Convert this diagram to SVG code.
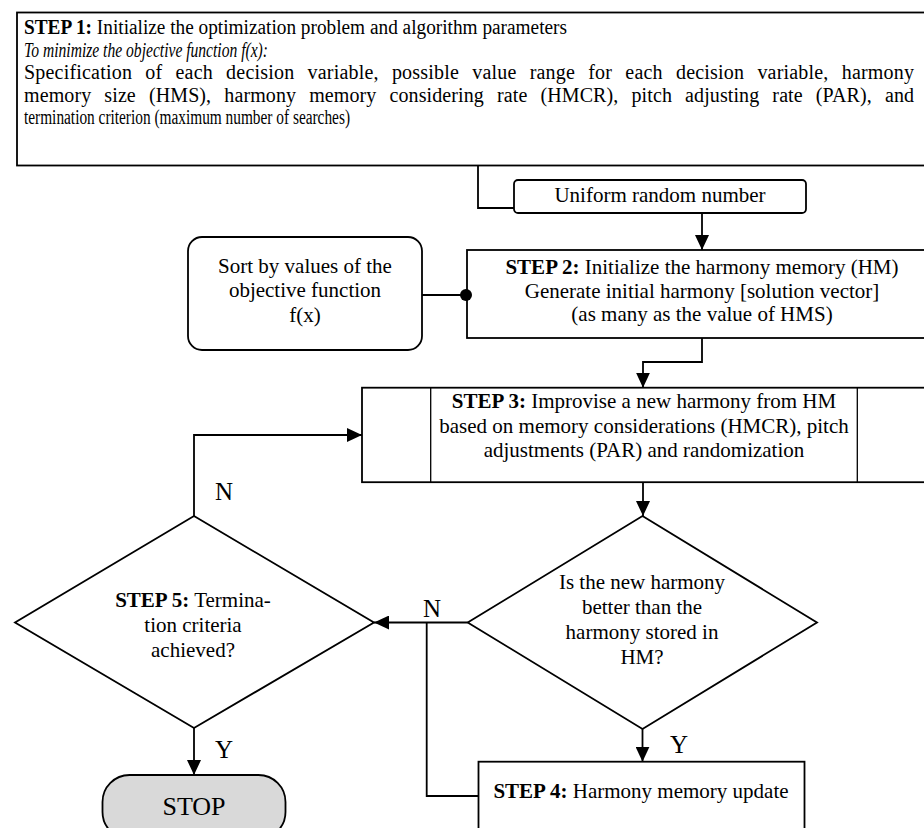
<svg xmlns="http://www.w3.org/2000/svg" width="924" height="828" viewBox="0 0 924 828">
  <defs>
    <style>
      .box { fill: #fff; stroke: #000; stroke-width: 1.8; }
      .thin { fill: none; stroke: #000; stroke-width: 1.3; }
      .stop { fill: #d9d9d9; stroke: #000; stroke-width: 1.8; }
      .wire { fill: none; stroke: #000; stroke-width: 1.8; }
      .arrow { marker-end: url(#head); }
      .t { font-family: "Liberation Serif", "Times New Roman", serif; font-size: 21px; fill: #000; }
      .s1 { font-size: 20px; }
      .just { word-spacing: 8px; }
      .c { text-anchor: middle; }
      .b { font-weight: bold; }
      .i { font-style: italic; }
      .lbl { font-family: "Liberation Serif", "Times New Roman", serif; font-size: 25px; fill: #000; text-anchor: middle; }
    </style>
    <marker id="head" markerUnits="userSpaceOnUse" markerWidth="15" markerHeight="14" refX="15" refY="7" orient="auto">
      <path d="M0,0 L15,7 L0,14 Z" fill="#000"/>
    </marker>
  </defs>

  <rect width="924" height="828" fill="#fff"/>

  <!-- STEP 1: problem set-up (justified middle lines) -->
  <g id="step1">
    <rect class="box" x="17" y="12.5" width="920" height="153"/>
    <text class="t s1" x="24" y="34" textLength="543" lengthAdjust="spacingAndGlyphs"><tspan class="b">STEP 1:</tspan> Initialize the optimization problem and algorithm parameters</text>
    <text class="t s1 i" x="24" y="56.5" textLength="244" lengthAdjust="spacingAndGlyphs">To minimize the objective function f(x):</text>
    <text class="t s1 just" x="24" y="79" textLength="890" lengthAdjust="spacing">Specification of each decision variable, possible value range for  each decision variable, harmony</text>
    <text class="t s1 just" x="24" y="101.5" textLength="890" lengthAdjust="spacing">memory size (HMS), harmony memory considering rate (HMCR), pitch adjusting rate (PAR), and</text>
    <text class="t s1" x="24" y="124" textLength="326" lengthAdjust="spacingAndGlyphs">termination criterion (maximum number of searches)</text>
  </g>

  <!-- uniform random number -->
  <g id="uniform">
    <rect class="box" x="514" y="180" width="292" height="33" rx="4"/>
    <text class="t c" x="660" y="202">Uniform random number</text>
  </g>

  <!-- sort -->
  <g id="sort">
    <rect class="box" x="188" y="237" width="234" height="113" rx="14"/>
    <text class="t c" x="305" y="273">Sort by values of the</text>
    <text class="t c" x="305" y="297">objective function</text>
    <text class="t c" x="305" y="322">f(x)</text>
  </g>

  <!-- STEP 2 -->
  <g id="step2">
    <rect class="box" x="467" y="250" width="470" height="88"/>
    <text class="t c" x="702" y="274"><tspan class="b">STEP 2:</tspan> Initialize the harmony memory (HM)</text>
    <text class="t c" x="702" y="298">Generate initial harmony [solution vector]</text>
    <text class="t c" x="702" y="321">(as many as the value of HMS)</text>
  </g>

  <!-- STEP 3: predefined-process box -->
  <g id="step3">
    <rect class="box" x="362" y="387.7" width="564" height="94.5"/>
    <path class="thin" d="M430.7,387.7 V482.2 M857.3,387.7 V482.2"/>
    <text class="t c" x="644" y="408"><tspan class="b">STEP 3:</tspan> Improvise a new harmony from HM</text>
    <text class="t c" x="644" y="433">based on memory considerations (HMCR), pitch</text>
    <text class="t c" x="644" y="457">adjustments (PAR) and randomization</text>
  </g>

  <!-- decision: better harmony -->
  <g id="better">
    <polygon class="box" points="642.5,516 817,622.5 642.5,729 467.7,622.5"/>
    <text class="t c" x="642" y="589">Is the new harmony</text>
    <text class="t c" x="642" y="614">better than the</text>
    <text class="t c" x="642" y="639">harmony stored in</text>
    <text class="t c" x="642" y="664">HM?</text>
  </g>

  <!-- STEP 5: termination check -->
  <g id="step5">
    <polygon class="box" points="194,516 374,622.5 194,728 15,622.5"/>
    <text class="t c" x="193" y="607"><tspan class="b">STEP 5:</tspan> Termina-</text>
    <text class="t c" x="193" y="632">tion criteria</text>
    <text class="t c" x="193" y="657">achieved?</text>
  </g>

  <!-- STEP 4 -->
  <g id="step4">
    <rect class="box" x="478.5" y="761.7" width="326" height="80"/>
    <text class="t c" x="641" y="798"><tspan class="b">STEP 4:</tspan> Harmony memory update</text>
  </g>

  <!-- STOP terminal -->
  <g id="stop">
    <rect class="stop" x="102.5" y="775" width="183" height="64" rx="27"/>
    <text class="t c" x="194" y="815" style="font-size:26px">STOP</text>
  </g>

  <!-- connectors -->
  <g id="connectors">
    <path class="wire" d="M478,165 V208 H514"/>
    <path class="wire arrow" d="M702,213 V250"/>
    <path class="wire" d="M422,295 H467"/>
    <circle cx="466" cy="295" r="6" fill="#000"/>
    <path class="wire arrow" d="M702,338 V362 H643 V387.7"/>
    <path class="wire arrow" d="M643,482 V516"/>
    <path class="wire arrow" d="M642.5,729 V761.7"/>
    <path class="wire arrow" d="M467.7,622.5 H374"/>
    <path class="wire" d="M479,796 H426.7 V622.5"/>
    <path class="wire arrow" d="M194,516 V435 H362"/>
    <path class="wire arrow" d="M194,728 V775"/>
    <text class="lbl" x="224" y="500">N</text>
    <text class="lbl" x="432" y="617">N</text>
    <text class="lbl" x="224" y="758">Y</text>
    <text class="lbl" x="679" y="753">Y</text>
  </g>
</svg>
